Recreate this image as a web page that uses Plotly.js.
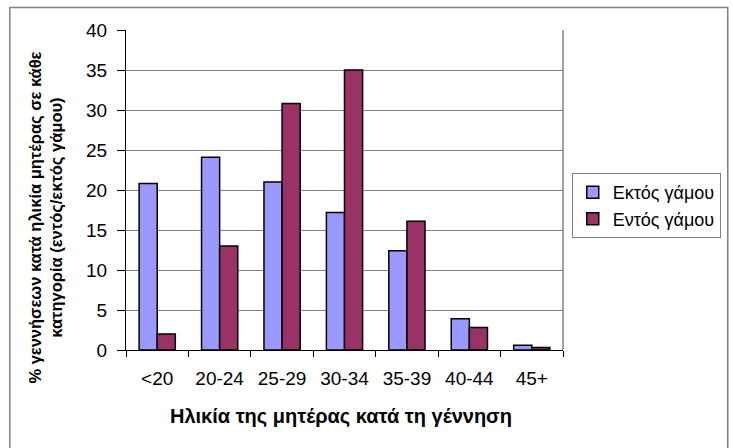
<!DOCTYPE html>
<html>
<head>
<meta charset="utf-8">
<script src="https://cdn.plot.ly/plotly-3.0.1.min.js"></script>
<style>
html,body{margin:0;padding:0;background:#fff;}
#chart{width:733px;height:448px;}
</style>
</head>
<body>
<div id="chart"></div>
<script>
const categories = ["<20", "20-24", "25-29", "30-34", "35-39", "40-44", "45+"];
const seriesNames = ["Εκτός γάμου", "Εντός γάμου"];
const outsideMarriage = [20.8, 24.1, 21.0, 17.2, 12.4, 3.9, 0.6];
const insideMarriage = [2.0, 13.0, 30.8, 35.0, 16.1, 2.8, 0.3];
const yTicks = [0, 5, 10, 15, 20, 25, 30, 35, 40];
const xTitle = "Ηλικία της μητέρας κατά τη γέννηση";
const yTitle = "% γεννήσεων κατά ηλικία μητέρας σε κάθε<br>κατηγορία (εντός/εκτός γάμου)";

const font = "Liberation Sans, Arial, sans-serif";

const traces = [
  {type: "bar", name: seriesNames[0], x: categories, y: outsideMarriage,
   marker: {color: "#9999FF", line: {color: "#000", width: 1.5}}},
  {type: "bar", name: seriesNames[1], x: categories, y: insideMarriage,
   marker: {color: "#993366", line: {color: "#000", width: 1.5}}}
];

const layout = {
  width: 733, height: 448,
  margin: {l: 126, r: 167, t: 30, b: 98},
  paper_bgcolor: "#fff", plot_bgcolor: "#fff",
  barmode: "group", bargap: 0.42, bargroupgap: 0,
  font: {family: font, color: "#000", size: 18},
  showlegend: true,
  legend: {x: 1.02, xanchor: "left", y: 0.553, yanchor: "top",
           bordercolor: "#808080", borderwidth: 1, font: {size: 18, family: font},
           itemwidth: 30, tracegroupgap: 0},
  xaxis: {type: "category", showline: true, linecolor: "#000", linewidth: 1,
          ticks: "outside", tickson: "boundaries", ticklen: 6, tickcolor: "#000",
          ticklabelstandoff: 11,
          tickfont: {size: 19, family: font}, showgrid: false, zeroline: false},
  yaxis: {range: [0, 40], tickvals: yTicks, showline: true, linecolor: "#000", linewidth: 1,
          ticks: "outside", ticklen: 8, tickcolor: "#000", showgrid: true,
          ticklabelstandoff: 6,
          gridcolor: "#808080", gridwidth: 1, zeroline: false,
          tickfont: {size: 19, family: font}},
  annotations: [
    {text: "<b>" + xTitle + "</b>", xref: "paper", yref: "paper", x: 0.493, y: -0.205,
     xanchor: "center", yanchor: "middle", showarrow: false, font: {size: 20, family: font}},
    {text: "<b>" + yTitle + "</b>", xref: "paper", yref: "paper", x: -0.184, y: 0.4125,
     xanchor: "center", yanchor: "middle", textangle: -90, showarrow: false,
     font: {size: 16.5, family: font}}
  ],
  shapes: [
    {type: "line", xref: "paper", yref: "paper", x0: 1, x1: 1, y0: 0, y1: 1,
     line: {color: "#808080", width: 1.5}},
    {type: "rect", xref: "paper", yref: "paper", x0: -0.2659, x1: 1.377, y0: -0.33, y1: 1.07,
     line: {color: "#808080", width: 1.5}}
  ]
};

Plotly.newPlot("chart", traces, layout, {displayModeBar: false, staticPlot: true});
</script>
</body>
</html>
